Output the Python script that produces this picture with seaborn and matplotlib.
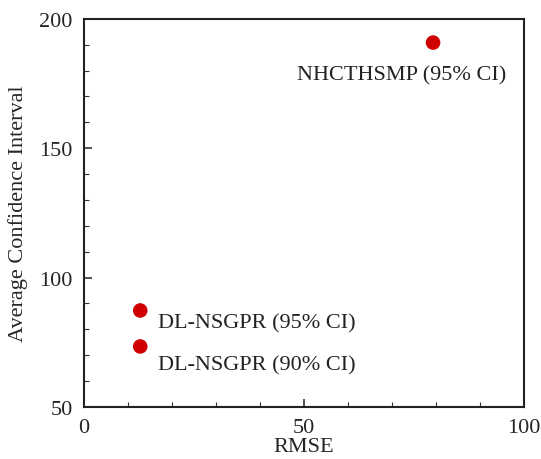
import numpy as np
import pandas as pd
import matplotlib.pyplot as plt
import seaborn as sns
from matplotlib.ticker import MultipleLocator

sns.set_style('white')
plt.rcParams.update({
    'font.family': ['Liberation Serif', 'DejaVu Serif'],
    'font.size': 16,
    'mathtext.fontset': 'stix',
})

# data
methods = ['DL-NSGPR (95% CI)', 'DL-NSGPR (90% CI)', 'NHCTHSMP (95% CI)']
rmse = [12.8, 12.8, 79.3]
avg_ci = [87.3, 73.4, 190.8]

df = pd.DataFrame({'method': methods, 'RMSE': rmse, 'CI': avg_ci})

fig = plt.figure(figsize=(5.41, 4.60), dpi=100)
ax = fig.add_axes([0.155, 0.113, 0.814, 0.844])

sns.scatterplot(data=df, x='RMSE', y='CI', color='#d00000', s=110,
                edgecolor='none', ax=ax, legend=False, zorder=3)

# label placement (offset in points from each marker)
offsets = [(13, -9), (13, -13.5), (-98, -23)]
for m, x, y, off in zip(methods, rmse, avg_ci, offsets):
    ax.annotate(m, (x, y), xytext=off, textcoords='offset points',
                ha='left', va='center', fontsize=16, color='#222222')

ax.set_xlim(0, 100)
ax.set_ylim(50, 200)
ax.xaxis.set_major_locator(MultipleLocator(50))
ax.xaxis.set_minor_locator(MultipleLocator(10))
ax.yaxis.set_major_locator(MultipleLocator(50))
ax.yaxis.set_minor_locator(MultipleLocator(10))
ax.tick_params(which='both', direction='in', top=False, right=False,
               bottom=True, left=True, color='#333333')
ax.tick_params(which='major', length=6, width=1.2, labelsize=16, pad=8)
ax.tick_params(which='minor', length=3.5, width=0.8)
for sp in ax.spines.values():
    sp.set_linewidth(1.5)
    sp.set_color('#222222')

ax.set_xlabel('RMSE', fontsize=16, labelpad=0)
ax.set_ylabel('Average Confidence Interval', fontsize=16, labelpad=8)

fig.savefig('out.png', dpi=100)
